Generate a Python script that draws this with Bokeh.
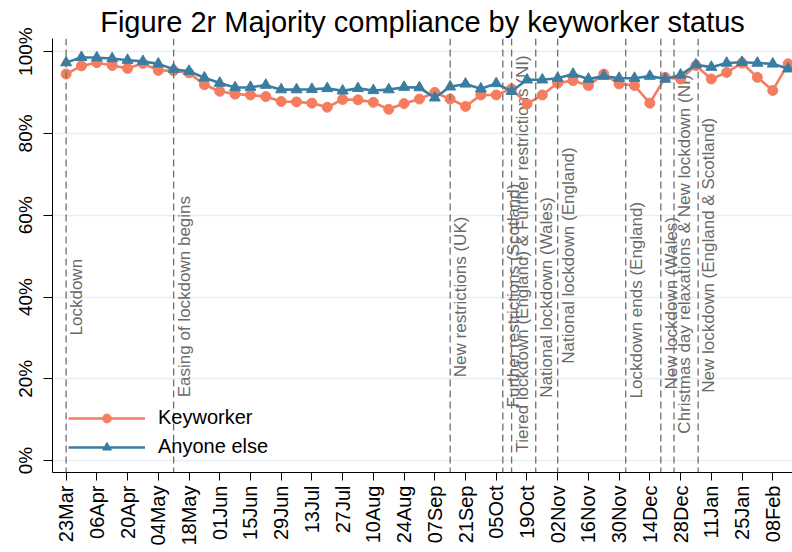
import math
import pandas as pd
from bokeh.plotting import figure
from bokeh.models import (ColumnDataSource, Span, Range1d, FixedTicker,
                          DatetimeTickFormatter, CustomJSTickFormatter)
from bokeh.embed import file_html
from bokeh.resources import INLINE
from bokeh.core.properties import value

# ---------------- data ----------------
week_dates = [
    "2020-03-23", "2020-03-30", "2020-04-06", "2020-04-13", "2020-04-20", "2020-04-27",
    "2020-05-04", "2020-05-11", "2020-05-18", "2020-05-25", "2020-06-01", "2020-06-08",
    "2020-06-15", "2020-06-22", "2020-06-29", "2020-07-06", "2020-07-13", "2020-07-20",
    "2020-07-27", "2020-08-03", "2020-08-10", "2020-08-17", "2020-08-24", "2020-08-31",
    "2020-09-07", "2020-09-14", "2020-09-21", "2020-09-28", "2020-10-05", "2020-10-12",
    "2020-10-19", "2020-10-26", "2020-11-02", "2020-11-09", "2020-11-16", "2020-11-23",
    "2020-11-30", "2020-12-07", "2020-12-14", "2020-12-21", "2020-12-28", "2021-01-04",
    "2021-01-11", "2021-01-18", "2021-01-25", "2021-02-01", "2021-02-08", "2021-02-15",
]
keyworker = [
    94.5, 96.5, 97.3, 96.6, 95.9, 97.1, 95.4, 95.3, 94.8, 91.9, 90.3, 89.6,
    89.4, 89.0, 87.8, 87.7, 87.4, 86.4, 88.3, 88.2, 87.6, 85.9, 87.3, 88.4,
    90.0, 88.4, 86.6, 89.4, 89.4, 90.9, 87.2, 89.4, 92.3, 92.9, 91.7, 94.5,
    92.1, 91.7, 87.4, 93.7, 93.3, 96.6, 93.3, 94.9, 97.2, 93.7, 90.5, 97.0,
]
anyone_else = [
    97.3, 98.6, 98.5, 98.3, 97.9, 97.6, 97.0, 95.7, 95.2, 93.6, 92.3, 91.2,
    91.3, 91.8, 90.7, 90.7, 90.8, 91.0, 90.4, 91.0, 90.5, 90.7, 91.3, 91.2,
    88.7, 91.4, 92.1, 90.9, 92.2, 90.3, 93.1, 93.1, 93.5, 94.5, 93.3, 94.0,
    93.5, 93.5, 94.0, 93.3, 94.3, 96.8, 96.2, 97.2, 97.4, 97.2, 97.0, 95.8,
]
series_names = ["Keyworker", "Anyone else"]

tick_dates = [
    "2020-03-23", "2020-04-06", "2020-04-20", "2020-05-04", "2020-05-18", "2020-06-01",
    "2020-06-15", "2020-06-29", "2020-07-13", "2020-07-27", "2020-08-10", "2020-08-24",
    "2020-09-07", "2020-09-21", "2020-10-05", "2020-10-19", "2020-11-02", "2020-11-16",
    "2020-11-30", "2020-12-14", "2020-12-28", "2021-01-11", "2021-01-25", "2021-02-08",
]
y_ticks = [0, 20, 40, 60, 80, 100]

event_dates = [
    "2020-03-23", "2020-05-11", "2020-09-14", "2020-10-08", "2020-10-12", "2020-10-23",
    "2020-11-02", "2020-12-03", "2020-12-19", "2020-12-25", "2021-01-05",
]
event_labels = [
    "Lockdown",
    "Easing of lockdown begins",
    "New restrictions (UK)",
    "Further restrictions (Scotland)",
    "Tiered lockdown (England) & Further restrictions (NI)",
    "National lockdown (Wales)",
    "National lockdown (England)",
    "Lockdown ends (England)",
    "New lockdown (Wales)",
    "Christmas day relaxations & New lockdown (NI)",
    "New lockdown (England & Scotland)",
]
# vertical start of each event label (layout, in axis units)
event_label_start = [30.6, 15.5, 20.4, 13.0, 2.0, 15.4, 23.7, 15.2, 17.4, 6.6, 16.6]

# ---------------- figure ----------------
FONT = "Liberation Sans"
ORANGE = "#F47D5F"
BLUE = "#3A7DA2"

x_dt = pd.to_datetime(week_dates)
t0 = pd.Timestamp(week_dates[0])
x_start = t0 - pd.Timedelta(days=6.2)
x_end = t0 + pd.Timedelta(days=331)

p = figure(width=792, height=552, x_axis_type="datetime",
           output_backend="svg", toolbar_location=None,
           x_range=Range1d(x_start, x_end), y_range=Range1d(-2.9, 103.2),
           min_border_left=52, min_border_right=0, min_border_top=38,
           min_border_bottom=80)
p.outline_line_color = None
p.background_fill_color = "white"
p.border_fill_color = "white"

p.title.text = "Figure 2r Majority compliance by keyworker status"
p.title.align = "center"
p.title.text_font = FONT
p.title.text_font_size = "29px"
p.title.text_font_style = "normal"
p.title.text_color = "black"
p.title.standoff = 2

# grid
p.xgrid.grid_line_color = None
p.ygrid.ticker = FixedTicker(ticks=y_ticks)
p.ygrid.grid_line_color = "#E8EEF3"
p.ygrid.grid_line_width = 1.3

# event lines
for d in event_dates:
    loc = pd.Timestamp(d).value // 10**6
    p.add_layout(Span(location=loc, dimension="height", line_color="#6E6E6E",
                      line_width=1.3, line_dash="7 4"))

ev_src = ColumnDataSource(dict(x=pd.to_datetime(event_dates), y=event_label_start,
                               text=event_labels))
p.text(x="x", y="y", text="text", source=ev_src, angle=math.pi / 2,
       text_align="left", text_baseline="top", text_color="#6A6A6A",
       text_font=value(FONT), text_font_size="17px", x_offset=1)

# series
src = ColumnDataSource(dict(x=x_dt, k=keyworker, a=anyone_else))
p.line("x", "k", source=src, color=ORANGE, line_width=2.6, legend_label=series_names[0])
p.scatter("x", "k", source=src, marker="circle", size=10, color=ORANGE,
          legend_label=series_names[0])
p.line("x", "a", source=src, color=BLUE, line_width=2.6, legend_label=series_names[1])
p.scatter("x", "a", source=src, marker="triangle", size=11, color=BLUE,
          legend_label=series_names[1])

# axes
xa = p.xaxis[0]
xa.ticker = FixedTicker(ticks=[pd.Timestamp(d).value // 10**6 for d in tick_dates])
xa.formatter = DatetimeTickFormatter(days="%d%b", months="%d%b", years="%d%b",
                                     hours="%d%b", milliseconds="%d%b", seconds="%d%b",
                                     minsec="%d%b", minutes="%d%b", hourmin="%d%b")
xa.major_label_orientation = math.pi / 2
xa.major_label_text_font = FONT
xa.major_label_text_font_size = "20px"
xa.major_label_text_color = "black"
xa.major_label_standoff = 5
xa.major_tick_out = 8
xa.major_tick_in = 0
xa.minor_tick_line_color = None
xa.axis_line_color = "black"
xa.major_tick_line_color = "black"

ya = p.yaxis[0]
ya.ticker = FixedTicker(ticks=y_ticks)
ya.formatter = CustomJSTickFormatter(code="return tick + '%';")
ya.major_label_orientation = "vertical"
ya.major_label_text_font = FONT
ya.major_label_text_font_size = "19px"
ya.major_label_text_color = "black"
ya.major_label_standoff = 7
ya.major_tick_out = 9
ya.major_tick_in = 0
ya.minor_tick_line_color = None
ya.axis_line_color = "black"
ya.major_tick_line_color = "black"

# legend
lg = p.legend[0]
lg.location = (16, 14)
lg.padding = 10
lg.border_line_color = None
lg.background_fill_alpha = 0
lg.label_text_font = FONT
lg.label_text_font_size = "20px"
lg.label_text_color = "black"
lg.glyph_width = 77
lg.glyph_height = 22
lg.label_standoff = 13
lg.spacing = 6

open("out.html", "w").write(file_html(p, INLINE))
